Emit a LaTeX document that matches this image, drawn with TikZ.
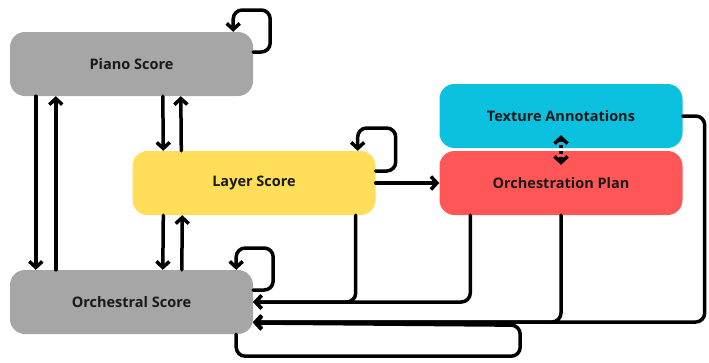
\documentclass[tikz,border=0pt]{standalone}
\usepackage{fontspec}
\setmainfont{Open Sans}
\usetikzlibrary{arrows.meta}
\definecolor{boxgray}{HTML}{A6A6A6}
\definecolor{boxyellow}{HTML}{FFDE59}
\definecolor{boxcyan}{HTML}{0CC0DF}
\definecolor{boxred}{HTML}{FF5757}
\definecolor{ink}{HTML}{1A1A1A}
\begin{document}
\begin{tikzpicture}[x=1pt,y=-1pt,
  >={Straight Barb[length=6pt,width=13pt]},
  box/.style={rounded corners=15pt, minimum width=243pt, minimum height=64pt,
    inner sep=0pt, text=ink, font=\bfseries\fontsize{14.5}{17}\selectfont},
  arr/.style={line width=3.5pt, line cap=round, line join=round, ->},
  link/.style={arr, rounded corners=9pt}]
\useasboundingbox (0,0) rectangle (709,362);

\node[box, fill=boxgray]   (piano) at (131.5,64)  {Piano Score};
\node[box, fill=boxyellow] (layer) at (254,183)   {Layer Score};
\node[box, fill=boxcyan]   (tex)   at (561,116)   {Texture Annotations};
\node[box, fill=boxred]    (plan)  at (561,183)   {Orchestration Plan};
\node[box, fill=boxgray]   (orch)  at (131.5,302) {Orchestral Score};

% vertical links between the score boxes
\draw[arr] ([xshift=26]piano.south west) -- ([xshift=26]orch.north west);
\draw[arr] ([xshift=46]orch.north west) -- ([xshift=46]piano.south west);
\draw[arr] ([xshift=153]piano.south west) -- ([xshift=31]layer.north west);
\draw[arr] ([xshift=49]layer.north west) -- ([xshift=171]piano.south west);
\draw[arr] ([xshift=31]layer.south west) -- ([xshift=153]orch.north west);
\draw[arr] ([xshift=172]orch.north west) -- ([xshift=50]layer.south west);

% self loops
\draw[link] ([yshift=12]piano.east) -- ++(17,0) -- ++(0,-42) -- ++(-37,0)
  -- ([xshift=-20]piano.north east);
\draw[link] ([yshift=12]layer.east) -- ++(20,0) -- ++(0,-43) -- ++(-38,0)
  -- ([xshift=-18]layer.north east);
\draw[link] ([yshift=12]orch.east) -- ++(20,0) -- ++(0,-42) -- ++(-37,0)
  -- ([xshift=-17]orch.north east);

% layer score to orchestration plan
\draw[arr] (layer.east) -- (plan.west);

% texture annotations and orchestration plan
\draw[line width=3.5pt, dash pattern=on 3pt off 3pt, <->]
  ([yshift=13]tex.south) -- ([yshift=-14]plan.north);

% routes back to the orchestral score
\draw[link] ([xshift=-20]layer.south east) |- (orch.east);
\draw[link] ([xshift=31]plan.south west) |- (orch.east);
\draw[link] (plan.south) |- ([yshift=-20]orch.east);
\draw[link] (tex.east) -- ++(22,0) |- ([yshift=-20]orch.east);
\draw[link] ([xshift=-17]orch.south east) -- ++(0,22) -- ++(284,0)
  -- ++(0,-31) -- ([yshift=-21]orch.east);
\end{tikzpicture}
\end{document}
